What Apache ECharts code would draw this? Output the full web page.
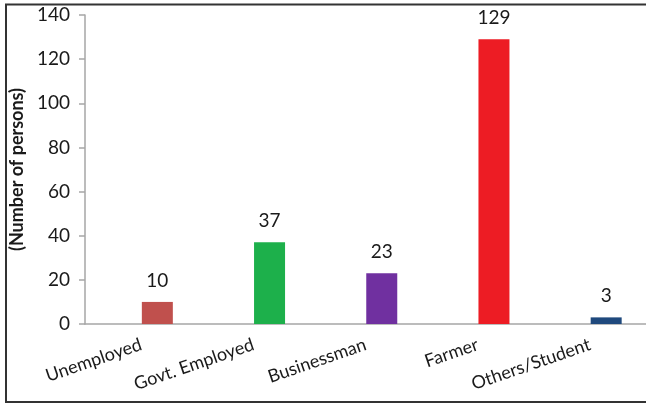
<!DOCTYPE html>
<html>
<head>
<meta charset="utf-8">
<script src="https://cdn.jsdelivr.net/npm/echarts@6/dist/echarts.min.js"></script>
<style>
html,body{margin:0;padding:0;background:#fff;}
#chart{width:646px;height:407px;}
</style>
</head>
<body>
<div id="chart"></div>
<script>
const categories = ['Unemployed', 'Govt. Employed', 'Businessman', 'Farmer', 'Others/Student'];
const persons = [10, 37, 23, 129, 3];
const barColors = ['#C0504D', '#1DB04B', '#7030A0', '#ED1C24', '#1F497D'];
const yTicks = [0, 20, 40, 60, 80, 100, 120, 140];
const yAxisTitle = '(Number of persons)';

const chart = echarts.init(document.getElementById('chart'), null, {renderer: 'canvas'});
const font = 'Lato';
const option = {
  animation: false,
  backgroundColor: '#ffffff',
  grid: {left: 83, top: 15, bottom: 83, width: 567.5, containLabel: false},
  xAxis: {
    type: 'category',
    data: categories,
    axisLine: {show: true, lineStyle: {color: '#A6A6A6', width: 1.5}},
    axisTick: {show: false},
    axisLabel: {
      rotate: 19, margin: 20, interval: 0,
      color: '#1a1a1a', fontFamily: font, fontSize: 18
    },
    splitLine: {show: false}
  },
  yAxis: {
    type: 'value',
    min: yTicks[0], max: yTicks[yTicks.length - 1], interval: 20,
    name: yAxisTitle,
    nameLocation: 'middle', nameRotate: 90, nameGap: 55,
    nameTextStyle: {color: '#1a1a1a', fontFamily: font, fontSize: 18, fontWeight: 'bold'},
    axisLine: {show: true, lineStyle: {color: '#A6A6A6', width: 1.5}},
    axisTick: {show: true, length: 6, lineStyle: {color: '#A6A6A6', width: 1.5}},
    axisLabel: {margin: 15, color: '#1a1a1a', fontFamily: font, fontSize: 19},
    splitLine: {show: false}
  },
  graphic: [{
    type: 'polyline', silent: true,
    shape: {points: [[646, 4.5], [6, 4.5], [6, 402], [646, 402]]},
    style: {stroke: '#333', lineWidth: 2, fill: null}
  }],
  series: [
    {name: 'spacer', type: 'bar', barWidth: 31, data: []},
    {
      name: 'Persons', type: 'bar', barWidth: 31, barGap: '5%',
      data: persons.map((v, i) => ({value: v, itemStyle: {color: barColors[i]}})),
      label: {show: true, position: 'top', distance: 12, color: '#1a1a1a', fontFamily: font, fontSize: 19}
    }
  ]
};
chart.setOption(option);
</script>
</body>
</html>
